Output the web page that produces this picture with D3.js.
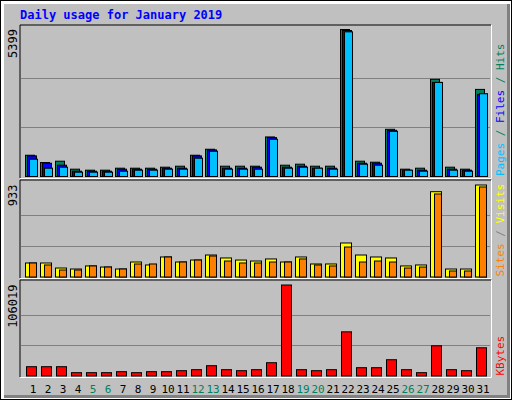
<!DOCTYPE html>
<html>
<head>
<meta charset="utf-8">
<script src="https://cdn.jsdelivr.net/npm/d3@7"></script>
<style>
  body { margin: 0; background: #fff; }
  text { font-family: "DejaVu Sans Mono", monospace; }
</style>
</head>
<body>
<svg id="chart" width="512" height="400"></svg>
<script>
// Data
const days = d3.range(1, 32);
const weekends = [5, 6, 12, 13, 19, 20, 26, 27];
const hits = [781, 513, 562, 269, 232, 232, 305, 305, 305, 342, 378, 781, 1001, 378, 378, 378, 1453, 415, 452, 378, 378, 5399, 562, 525, 1734, 269, 305, 3570, 342, 269, 3199];
const files = [757, 488, 415, 195, 195, 195, 269, 269, 269, 305, 305, 757, 977, 305, 305, 342, 1429, 342, 378, 305, 305, 5362, 488, 488, 1697, 232, 232, 3455, 269, 232, 3016];
const pages = [635, 305, 342, 159, 159, 159, 195, 232, 232, 269, 269, 672, 928, 269, 269, 269, 1368, 305, 342, 305, 269, 5313, 452, 415, 1660, 232, 195, 3455, 232, 195, 3040];
const visits = [142, 142, 91, 81, 112, 101, 81, 152, 122, 203, 152, 172, 223, 193, 172, 162, 183, 152, 203, 132, 132, 345, 223, 203, 193, 112, 122, 865, 81, 81, 933];
const sites = [142, 122, 71, 71, 112, 101, 81, 132, 132, 203, 152, 172, 213, 162, 142, 142, 152, 152, 183, 122, 112, 304, 152, 162, 152, 91, 101, 842, 61, 61, 913];
const kbytes = [10833, 10833, 10833, 3869, 3869, 3869, 5030, 3869, 5030, 5030, 6191, 7351, 11994, 7351, 6191, 7351, 15476, 106019, 7351, 6191, 7351, 51458, 9673, 9673, 18958, 7351, 3869, 35208, 7351, 6191, 32886];

const svg = d3.select("#chart");

// outer frame
svg.append("rect").attr("x", 0).attr("y", 0).attr("width", 512).attr("height", 400).attr("fill", "#000");
svg.append("rect").attr("x", 1).attr("y", 1).attr("width", 510).attr("height", 398).attr("fill", "#fff");
svg.append("rect").attr("x", 4).attr("y", 4).attr("width", 506).attr("height", 394).attr("fill", "#808080");
svg.append("rect").attr("x", 4).attr("y", 4).attr("width", 503).attr("height", 391).attr("fill", "#c0c0c0");

svg.append("text").attr("x", 20).attr("y", 19).attr("fill", "#0000ff")
  .attr("font-size", 12).attr("font-weight", "bold").text("Daily usage for January 2019");

const x = d3.scaleLinear().domain([1, 31]).range([25, 475]);

// panels: [top, bottom] of plot area, maximum, series
const panels = [
  { y0: 29, y1: 176, box: [25, 178], max: 5399, label: "5399",
    series: [[hits, 0, 9, "#00805c"], [files, 2, 11, "#0000ff"], [pages, 4, 12, "#00c0ff"]],
    legend: [["Pages", "#00c0ff"], [" / ", "#00805c"], ["Files", "#0000ff"], [" / ", "#00805c"], ["Hits", "#00805c"]] },
  { y0: 184.5, y1: 276.5, box: [180, 278], max: 933, label: "933",
    series: [[visits, 0, 11, "#ffff00"], [sites, 4, 11, "#ff8000"]],
    legend: [["Sites", "#ff8000"], [" / ", "#808080"], ["Visits", "#ffff00"]] },
  { y0: 284.5, y1: 375.5, box: [280, 377], max: 106019, label: "106019",
    series: [[kbytes, 1, 11, "#ff0000"]],
    legend: [["KBytes", "#ff0000"]] }
];

panels.forEach(p => {
  const g = svg.append("g");
  g.append("rect").attr("x", 20).attr("y", p.box[0]).attr("width", 471)
    .attr("height", p.box[1] - p.box[0]).attr("fill", "#c0c0c0");
  g.append("path").attr("d", `M20,${p.box[1]}V${p.box[0]}H491`).attr("stroke", "#000").attr("fill", "none");
  g.append("path").attr("d", `M20,${p.box[1] + 0.5}H491.5V${p.box[0]}`).attr("stroke", "#fff").attr("fill", "none");

  const y = d3.scaleLinear().domain([0, p.max]).range([p.y1, p.y0]);
  [p.max / 3, p.max * 2 / 3].forEach(v => {
    g.append("line").attr("x1", 21).attr("x2", 490).attr("y1", Math.round(y(v)) + 0.5)
      .attr("y2", Math.round(y(v)) + 0.5).attr("stroke", "#808080");
  });

  p.series.forEach(([vals, off, w, col]) => {
    g.selectAll(null).data(days).enter().append("rect")
      .attr("x", d => x(d) + off + 0.5)
      .attr("y", (d, i) => y(vals[i]) + 0.5)
      .attr("width", w - off)
      .attr("height", (d, i) => p.y1 - y(vals[i]))
      .attr("fill", col).attr("stroke", "#000");
  });

  // max value label
  g.append("text").attr("transform", `translate(17,${p.y0}) rotate(-90)`)
    .attr("text-anchor", "end").attr("font-size", 12).attr("fill", "#000").text(p.label);

  // legend on the right
  const t = g.append("text").attr("transform", `translate(504,${p.y1}) rotate(-90)`)
    .attr("font-size", 11);
  p.legend.forEach(([s, c]) => t.append("tspan").attr("fill", c).text(s));
});

// day labels
svg.selectAll(".day").data(days).enter().append("text")
  .attr("class", "day").attr("x", d => x(d) + 8).attr("y", 393)
  .attr("text-anchor", "middle").attr("font-size", 11)
  .attr("fill", d => weekends.includes(d) ? "#00805c" : "#000").text(d => d);
</script>
</body>
</html>
